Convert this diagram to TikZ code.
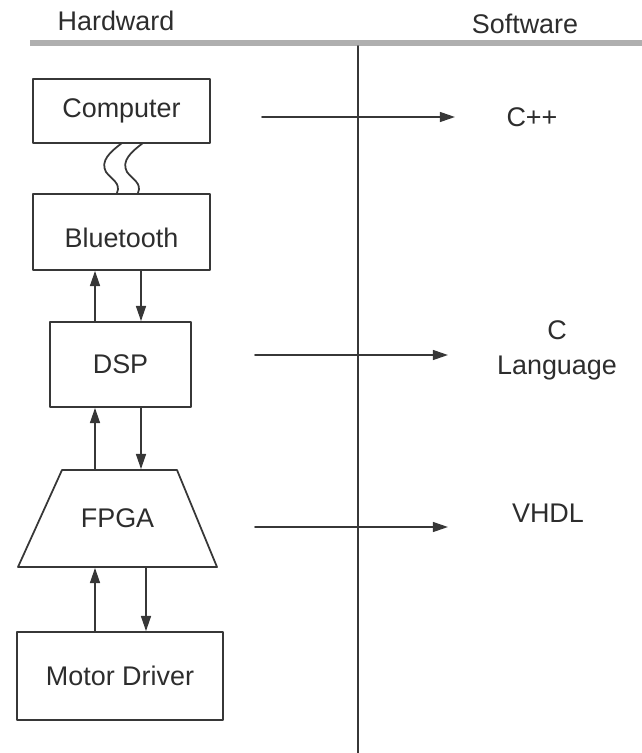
\documentclass[tikz,border=0pt]{standalone}
\usepackage{fontspec}
\setmainfont{Liberation Sans}
\usetikzlibrary{arrows.meta}
\definecolor{linegray}{RGB}{55,55,55}
\definecolor{textgray}{RGB}{45,45,45}
\definecolor{bargray}{RGB}{175,175,175}

\begin{document}
\begin{tikzpicture}[line cap=round,line join=round,>={Triangle[length=13pt,width=8.5pt]},x=0.03cm,y=-0.03cm]
\useasboundingbox (0,0) rectangle (642,753);
\tikzstyle{hwbox}= [draw=linegray, line width=1.5pt, inner sep=0pt, font=\fontsize{23}{27}\selectfont, text=textgray];
\tikzstyle{lbl}= [font=\fontsize{23}{30}\selectfont, text=textgray, align=center];
\tikzstyle{wire}= [draw=linegray, line width=1.5pt];
% headings and dividers
\node[lbl] (hw) at (116,21) {Hardward};
\node[lbl] (sw) at (525,24) {Software};
\coordinate (barL) at (30,43);
\coordinate (barR) at (642,43);
\draw [line width=5pt, color=bargray, line cap=butt] (barL)-- (barR);
\coordinate (divT) at (358,46);
\coordinate (divB) at (358,753);
\draw [wire] (divT)-- (divB);
% hardware blocks
\node[hwbox, minimum width=5.31cm, minimum height=1.92cm] (pc) at (121.5,111) {Computer};
\node[hwbox, minimum width=5.31cm, minimum height=2.28cm, text height=0.95cm, text depth=0cm] (bt) at (121.5,232) {Bluetooth};
\node[hwbox, minimum width=4.23cm, minimum height=2.55cm] (dsp) at (120.5,364.5) {DSP};
\draw [wire] (62,470)-- (177,470)-- (217,567)-- (18,567)-- cycle;
\node[hwbox, draw=none, minimum width=5.97cm, minimum height=2.91cm] (fpga) at (117.5,518.5) {FPGA};
\node[hwbox, minimum width=6.18cm, minimum height=2.64cm] (md) at (120,676) {Motor Driver};
% wireless link
\draw [wire] (122,143) .. controls (110,152) and (100,161) .. (106,172) .. controls (112,180) and (121,183) .. (117,193);
\draw [wire] (143,143) .. controls (131,152) and (121,161) .. (127,172) .. controls (133,180) and (142,183) .. (138,193);
% data paths
\draw [wire,->] (95,0 |- dsp.north)-- (95,0 |- bt.south);
\draw [wire,->] (141,0 |- bt.south)-- (141,0 |- dsp.north);
\draw [wire,->] (95,0 |- fpga.north)-- (95,0 |- dsp.south);
\draw [wire,->] (141,0 |- dsp.south)-- (141,0 |- fpga.north);
\draw [wire,->] (95,0 |- md.north)-- (95,0 |- fpga.south);
\draw [wire,->] (146,0 |- fpga.south)-- (146,0 |- md.north);
% software side
\node[lbl] (cpp) at (532,117) {C++};
\node[lbl] (clang) at (557,350) {C\\Language};
\node[lbl] (vhdl) at (548,513) {VHDL};
\coordinate (a1) at (262,117);
\coordinate (b1) at (455,117);
\coordinate (a2) at (255,355);
\coordinate (b2) at (448,355);
\coordinate (a3) at (255,527);
\coordinate (b3) at (448,527);
\draw [wire,->] (a1)-- (b1);
\draw [wire,->] (a2)-- (b2);
\draw [wire,->] (a3)-- (b3);
\end{tikzpicture}
\end{document}
